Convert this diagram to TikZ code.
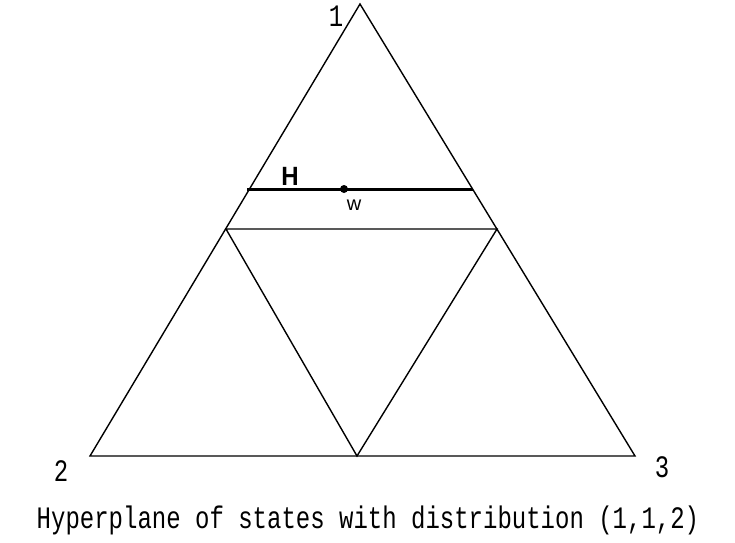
\documentclass[tikz,border=0pt]{standalone}
\usepackage{fontspec}
\setmonofont{Liberation Mono}
\setsansfont{Liberation Sans}
\newcommand{\tallt}[1]{\scalebox{1}[1.3]{#1}}
\begin{document}
\begin{tikzpicture}[x=1pt,y=-1pt,
  edge/.style={line width=1.4pt,black},
  hline/.style={line width=3pt,black},
  lab/.style={font=\ttfamily\fontsize{24}{24}\selectfont,inner sep=0pt}]
\useasboundingbox (0,0) rectangle (735,542);
\coordinate (v1) at (360,4);
\coordinate (v2) at (90,456);
\coordinate (v3) at (635,456);
\coordinate (m12) at (226,229);
\coordinate (m13) at (497,229);
\coordinate (m23) at (357,456);
\coordinate (hl) at (247,189);
\coordinate (hr) at (473,189);
\draw[edge,line join=miter] (v1) -- (v2) -- (v3) -- cycle;
\draw[edge] (m12) -- (m13) -- (m23) -- cycle;
\draw[hline] (hl) -- (hr);
\node[circle,fill=black,inner sep=0pt,minimum size=8pt] (w) at (344,189) {};
\node[lab] (l1) at (336,16) {\tallt{1}};
\node[lab] (l2) at (61,471) {\tallt{2}};
\node[lab] (l3) at (662,467) {\tallt{3}};
\node[font=\sffamily\bfseries\fontsize{24}{24}\selectfont,inner sep=0pt] (H) at (290,176) {\scalebox{1}[1.1]{H}};
\node[font=\sffamily\fontsize{20}{20}\selectfont,inner sep=0pt] (wl) at (354,205) {w};
\node[lab] (cap) at (368,520) {\tallt{Hyperplane of states with distribution (1,1,2)}};
\end{tikzpicture}
\end{document}
